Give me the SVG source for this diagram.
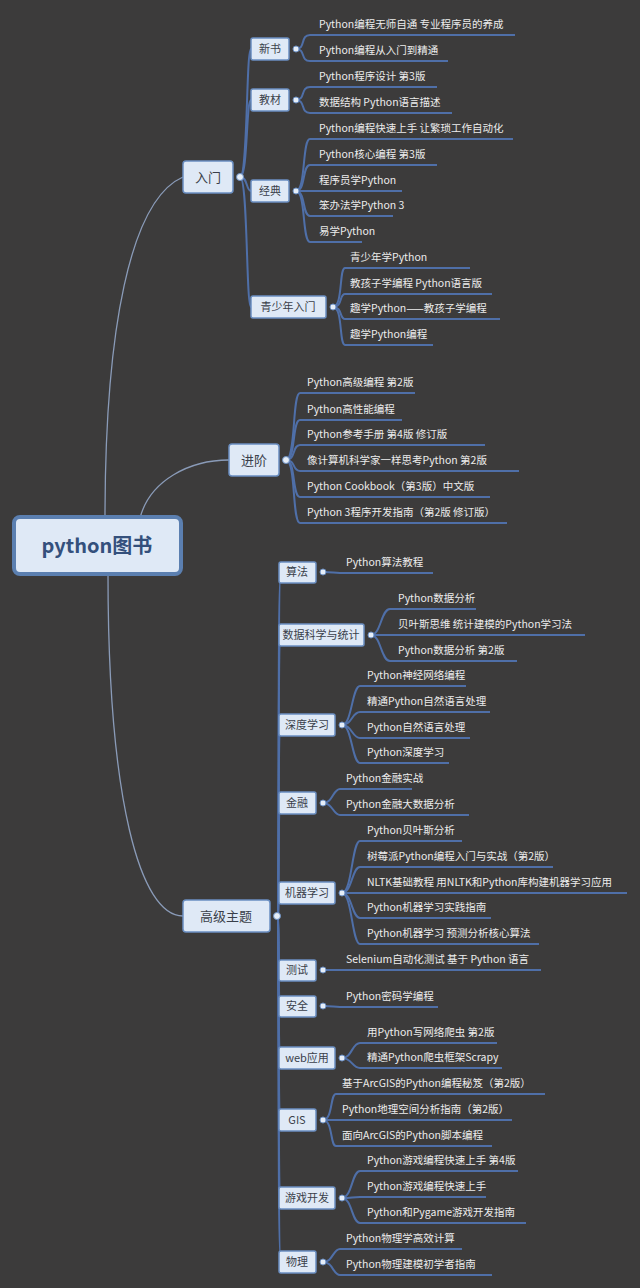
<svg xmlns="http://www.w3.org/2000/svg" width="640" height="1288" viewBox="0 0 640 1288">
<style>
.bg{fill:#3c3b3b}
.n rect{fill:#dfe9f6;stroke:#6b8fc2;stroke-width:1.5}
.n text{font-family:"Noto Sans CJK SC","Liberation Sans",sans-serif;fill:#3a3f4a;font-size:11px;text-anchor:middle}
.lf{font-family:"Noto Sans CJK SC","Liberation Sans",sans-serif;fill:#ececec;font-size:10.5px}
.c path{fill:none;stroke:#4f6fa8;stroke-width:2}
.c .r{stroke:#8a9bb8;stroke-width:1.3}
.d{fill:#e6eef8;stroke:#6b8fc2;stroke-width:1}
</style>
<rect class="bg" width="640" height="1288"/>
<g class="c">
<path class="r" d="M105,518 C105,330 130,200 183,177"/>
<path class="r" d="M140,518 C150,480 190,460 229,460"/>
<path class="r" d="M108,574 C108,800 140,916 183,916"/>
<path d="M240,177 C248,177 246,49 251,49"/>
<path d="M240,177 C248,177 246,100 251,100"/>
<path d="M240,177 C248,177 246,191 251,191"/>
<path d="M240,177 C248,177 246,307 251,307"/>
<path d="M296,49 C306,49 300,35 310,35 H515"/>
<path d="M296,49 C306,49 300,61 310,61 H448"/>
<path d="M296,100 C306,100 300,87 310,87 H437"/>
<path d="M296,100 C306,100 300,113 310,113 H452"/>
<path d="M296,191 C306,191 302,139 310,139 H513"/>
<path d="M296,191 C306,191 302,165 310,165 H437"/>
<path d="M296,191 C306,191 302,191 310,191 H402"/>
<path d="M296,191 C306,191 302,216 310,216 H393"/>
<path d="M296,191 C306,191 302,242 310,242 H362"/>
<path d="M333,307 C343,307 339,268 345,268 H470"/>
<path d="M333,307 C343,307 339,294 345,294 H492"/>
<path d="M333,307 C343,307 339,319 345,319 H500"/>
<path d="M333,307 C343,307 339,345 345,345 H433"/>
<path d="M286,460 C296,460 292,393 300,393 H415"/>
<path d="M286,460 C296,460 292,420 300,420 H402"/>
<path d="M286,460 C296,460 292,445 300,445 H485"/>
<path d="M286,460 C296,460 292,471 300,471 H519"/>
<path d="M286,460 C296,460 292,497 300,497 H490"/>
<path d="M286,460 C296,460 292,523 300,523 H507"/>
<path d="M277,916 C280,916 277,572 281,572"/>
<path d="M277,916 C280,916 277,635 281,635"/>
<path d="M277,916 C280,916 277,725 281,725"/>
<path d="M277,916 C280,916 277,803 281,803"/>
<path d="M277,916 C280,916 277,893 281,893"/>
<path d="M277,916 C280,916 277,970 281,970"/>
<path d="M277,916 C280,916 277,1006 281,1006"/>
<path d="M277,916 C280,916 277,1058 281,1058"/>
<path d="M277,916 C280,916 277,1120 281,1120"/>
<path d="M277,916 C280,916 277,1198 281,1198"/>
<path d="M277,916 C280,916 277,1262 281,1262"/>
<path d="M323,572 C333,572 333,573 340,573 H433"/>
<path d="M371,635 C381,635 381,609 390,609 H476"/>
<path d="M371,635 C381,635 381,635 390,635 H585"/>
<path d="M371,635 C381,635 381,661 390,661 H517"/>
<path d="M342,725 C352,725 352,686 360,686 H466"/>
<path d="M342,725 C352,725 352,712 360,712 H490"/>
<path d="M342,725 C352,725 352,738 360,738 H470"/>
<path d="M342,725 C352,725 352,763 360,763 H449"/>
<path d="M323,803 C333,803 333,789 340,789 H412"/>
<path d="M323,803 C333,803 333,815 340,815 H469"/>
<path d="M342,893 C352,893 352,841 360,841 H462"/>
<path d="M342,893 C352,893 352,867 360,867 H553"/>
<path d="M342,893 C352,893 352,893 360,893 H627"/>
<path d="M342,893 C352,893 352,918 360,918 H491"/>
<path d="M342,893 C352,893 352,944 360,944 H539"/>
<path d="M323,970 C333,970 333,970 340,970 H541"/>
<path d="M323,1006 C333,1006 333,1007 340,1007 H438"/>
<path d="M342,1058 C352,1058 352,1043 360,1043 H497"/>
<path d="M342,1058 C352,1058 352,1068 360,1068 H502"/>
<path d="M323,1120 C333,1120 330,1094 336,1094 H545"/>
<path d="M323,1120 C333,1120 330,1120 336,1120 H512"/>
<path d="M323,1120 C333,1120 330,1146 336,1146 H492"/>
<path d="M342,1198 C352,1198 352,1171 360,1171 H518"/>
<path d="M342,1198 C352,1198 352,1197 360,1197 H486"/>
<path d="M342,1198 C352,1198 352,1223 360,1223 H526"/>
<path d="M323,1262 C333,1262 333,1249 340,1249 H462"/>
<path d="M323,1262 C333,1262 333,1275 340,1275 H492"/>
</g>
<g id="root" class="n"><rect x="14" y="517" width="167" height="57" rx="6" style="stroke:#5b7fb0;stroke-width:4"/><text x="97" y="553" style="font-size:20px;font-weight:bold;fill:#34507c">python图书</text></g>
<g id="n-rumen" class="n"><rect x="183" y="161" width="50" height="32" rx="3"/><text x="208" y="182" style="font-size:13px">入门</text></g>
<g id="n-jinjie" class="n"><rect x="229" y="444" width="50" height="32" rx="3"/><text x="254" y="465" style="font-size:13px">进阶</text></g>
<g id="n-gaoji" class="n"><rect x="183" y="900" width="87" height="32" rx="3"/><text x="226" y="921" style="font-size:13px">高级主题</text></g>
<g id="n-xinshu" class="n"><rect x="251" y="38" width="38" height="22" rx="2"/><text x="270" y="53">新书</text></g>
<g id="n-jiaocai" class="n"><rect x="251" y="89" width="38" height="22" rx="2"/><text x="270" y="104">教材</text></g>
<g id="n-jingdian" class="n"><rect x="251" y="180" width="38" height="22" rx="2"/><text x="270" y="195">经典</text></g>
<g id="n-qsn" class="n"><rect x="251" y="296" width="75" height="22" rx="2"/><text x="288" y="311">青少年入门</text></g>
<g id="n-suanfa" class="n"><rect x="279" y="562" width="37" height="21" rx="2"/><text x="297" y="576">算法</text></g>
<g id="n-sjkx" class="n"><rect x="279" y="624" width="85" height="22" rx="2"/><text x="321" y="639">数据科学与统计</text></g>
<g id="n-sdxx" class="n"><rect x="279" y="714" width="56" height="22" rx="2"/><text x="307" y="729">深度学习</text></g>
<g id="n-jinrong" class="n"><rect x="279" y="792" width="37" height="22" rx="2"/><text x="297" y="807">金融</text></g>
<g id="n-jqxx" class="n"><rect x="279" y="882" width="56" height="22" rx="2"/><text x="307" y="897">机器学习</text></g>
<g id="n-ceshi" class="n"><rect x="279" y="960" width="37" height="21" rx="2"/><text x="297" y="974">测试</text></g>
<g id="n-anquan" class="n"><rect x="279" y="996" width="37" height="21" rx="2"/><text x="297" y="1010">安全</text></g>
<g id="n-web" class="n"><rect x="279" y="1047" width="56" height="22" rx="2"/><text x="307" y="1062">web应用</text></g>
<g id="n-gis" class="n"><rect x="279" y="1109" width="37" height="22" rx="2"/><text x="297" y="1124">GIS</text></g>
<g id="n-youxi" class="n"><rect x="279" y="1187" width="56" height="22" rx="2"/><text x="307" y="1202">游戏开发</text></g>
<g id="n-wuli" class="n"><rect x="279" y="1251" width="37" height="22" rx="2"/><text x="297" y="1266">物理</text></g>
<g id="dots">
<circle class="d" cx="240" cy="177" r="3.5"/><circle class="d" cx="286" cy="460" r="3.5"/><circle class="d" cx="277" cy="916" r="3.5"/>
<circle class="d" cx="296" cy="49" r="3"/><circle class="d" cx="296" cy="100" r="3"/><circle class="d" cx="296" cy="191" r="3"/><circle class="d" cx="333" cy="307" r="3"/>
<circle class="d" cx="323" cy="572" r="3"/><circle class="d" cx="371" cy="635" r="3"/><circle class="d" cx="342" cy="725" r="3"/><circle class="d" cx="323" cy="803" r="3"/><circle class="d" cx="342" cy="893" r="3"/><circle class="d" cx="323" cy="970" r="3"/><circle class="d" cx="323" cy="1006" r="3"/><circle class="d" cx="342" cy="1058" r="3"/><circle class="d" cx="323" cy="1120" r="3"/><circle class="d" cx="342" cy="1198" r="3"/><circle class="d" cx="323" cy="1262" r="3"/>
</g>
<g id="leaves" class="lf">
<text x="319" y="28">Python编程无师自通 专业程序员的养成</text>
<text x="319" y="54">Python编程从入门到精通</text>
<text x="319" y="80">Python程序设计 第3版</text>
<text x="319" y="106">数据结构 Python语言描述</text>
<text x="319" y="132">Python编程快速上手 让繁琐工作自动化</text>
<text x="319" y="158">Python核心编程 第3版</text>
<text x="319" y="184">程序员学Python</text>
<text x="319" y="209">笨办法学Python 3</text>
<text x="319" y="235">易学Python</text>
<text x="350" y="261">青少年学Python</text>
<text x="350" y="287">教孩子学编程 Python语言版</text>
<text x="350" y="312">趣学Python——教孩子学编程</text>
<text x="350" y="338">趣学Python编程</text>
<text x="307" y="386">Python高级编程 第2版</text>
<text x="307" y="413">Python高性能编程</text>
<text x="307" y="438">Python参考手册 第4版 修订版</text>
<text x="307" y="464">像计算机科学家一样思考Python 第2版</text>
<text x="307" y="490">Python Cookbook（第3版）中文版</text>
<text x="307" y="516">Python 3程序开发指南（第2版 修订版）</text>
<text x="346" y="566">Python算法教程</text>
<text x="398" y="602">Python数据分析</text>
<text x="398" y="628">贝叶斯思维 统计建模的Python学习法</text>
<text x="398" y="654">Python数据分析 第2版</text>
<text x="367" y="679">Python神经网络编程</text>
<text x="367" y="705">精通Python自然语言处理</text>
<text x="367" y="731">Python自然语言处理</text>
<text x="367" y="756">Python深度学习</text>
<text x="346" y="782">Python金融实战</text>
<text x="346" y="808">Python金融大数据分析</text>
<text x="367" y="834">Python贝叶斯分析</text>
<text x="367" y="860">树莓派Python编程入门与实战（第2版）</text>
<text x="367" y="886">NLTK基础教程 用NLTK和Python库构建机器学习应用</text>
<text x="367" y="911">Python机器学习实践指南</text>
<text x="367" y="937">Python机器学习 预测分析核心算法</text>
<text x="346" y="963">Selenium自动化测试 基于 Python 语言</text>
<text x="346" y="1000">Python密码学编程</text>
<text x="367" y="1036">用Python写网络爬虫 第2版</text>
<text x="367" y="1061">精通Python爬虫框架Scrapy</text>
<text x="342" y="1087">基于ArcGIS的Python编程秘笈（第2版）</text>
<text x="342" y="1113">Python地理空间分析指南（第2版）</text>
<text x="342" y="1139">面向ArcGIS的Python脚本编程</text>
<text x="367" y="1164">Python游戏编程快速上手 第4版</text>
<text x="367" y="1190">Python游戏编程快速上手</text>
<text x="367" y="1216">Python和Pygame游戏开发指南</text>
<text x="346" y="1242">Python物理学高效计算</text>
<text x="346" y="1268">Python物理建模初学者指南</text>
</g>
</svg>
